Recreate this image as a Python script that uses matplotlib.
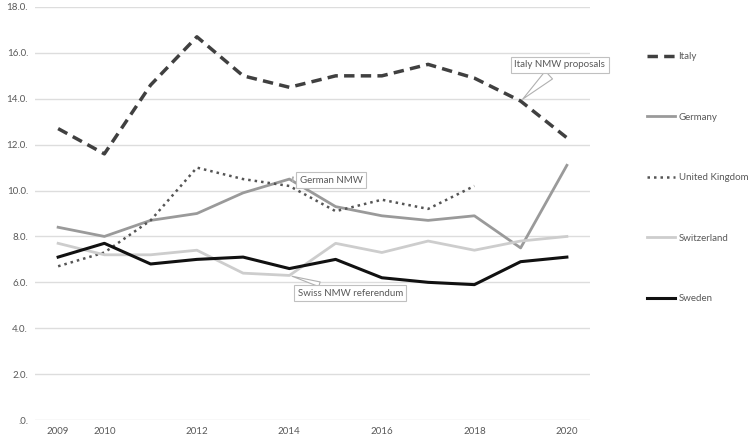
import matplotlib
matplotlib.use('Agg')
import matplotlib.pyplot as plt

plt.rcParams['font.family'] = ['Lato', 'DejaVu Sans']

years = [2009, 2010, 2011, 2012, 2013, 2014, 2015, 2016, 2017, 2018, 2019, 2020]
italy = [12.7, 11.6, 14.6, 16.7, 15.0, 14.5, 15.0, 15.0, 15.5, 14.9, 13.9, 12.3]
germany = [8.4, 8.0, 8.7, 9.0, 9.9, 10.5, 9.3, 8.9, 8.7, 8.9, 7.5, 11.1]
uk_years = [2009, 2010, 2011, 2012, 2013, 2014, 2015, 2016, 2017, 2018]
uk = [6.7, 7.3, 8.7, 11.0, 10.5, 10.2, 9.1, 9.6, 9.2, 10.2]
switzerland = [7.7, 7.2, 7.2, 7.4, 6.4, 6.3, 7.7, 7.3, 7.8, 7.4, 7.8, 8.0]
sweden = [7.1, 7.7, 6.8, 7.0, 7.1, 6.6, 7.0, 6.2, 6.0, 5.9, 6.9, 7.1]

xtick_years = [2009, 2010, 2012, 2014, 2016, 2018, 2020]
ytick_vals = [0, 2, 4, 6, 8, 10, 12, 14, 16, 18]
ytick_labels = ['.0.', '2.0.', '4.0.', '6.0.', '8.0.', '10.0.', '12.0.', '14.0.', '16.0.', '18.0.']

fig = plt.figure(figsize=(7.5, 4.43), dpi=100)
ax = fig.add_axes([35 / 750, 23 / 443, 555 / 750, 413 / 443])

ax.plot(years, italy, color='#404040', lw=2.5, dashes=(3, 1.8), label='Italy')
ax.plot(years, germany, color='#9a9a9a', lw=2.0, label='Germany')
ax.plot(uk_years, uk, color='#555555', lw=1.8, ls=(0, (1, 1.6)), label='United Kingdom')
ax.plot(years, switzerland, color='#cdcdcd', lw=2.0, label='Switzerland')
ax.plot(years, sweden, color='#111111', lw=2.2, label='Sweden')

ax.set_xlim(2008.5, 2020.5)
ax.set_ylim(0, 18)
ax.set_xticks(xtick_years)
ax.set_xticklabels([str(y) for y in xtick_years])
ax.set_yticks(ytick_vals)
ax.set_yticklabels(ytick_labels)
ax.grid(axis='y', color='#dddddd', lw=1)
ax.set_axisbelow(True)
for s in ax.spines.values():
    s.set_visible(False)
ax.tick_params(length=0, labelsize=7, colors='#595959', pad=5)

# callouts
box = dict(boxstyle='square,pad=0.35', fc='white', ec='#c0c0c0', lw=0.8)
arr = dict(arrowstyle='wedge,tail_width=0.5,shrink_factor=0.5', fc='white', ec='#b0b0b0', lw=0.8)
arr_it = dict(arrowstyle='wedge,tail_width=1.1,shrink_factor=0.5', fc='white', ec='#b0b0b0', lw=0.8)
ax.annotate('German NMW', xy=(2014, 10.5), xytext=(2014.9, 10.45),
            ha='center', va='center', fontsize=7, color='#595959', bbox=box,
            arrowprops=arr, annotation_clip=False)
ax.annotate('Italy NMW proposals', xy=(2019, 13.9), xytext=(2019.85, 15.48),
            ha='center', va='center', fontsize=7, color='#595959', bbox=box,
            arrowprops=arr_it, annotation_clip=False)
ax.annotate('Swiss NMW referendum', xy=(2014, 6.3), xytext=(2015.32, 5.52),
            ha='center', va='center', fontsize=7, color='#595959', bbox=box,
            arrowprops=arr, annotation_clip=False)

fig.legend(loc='upper left', bbox_to_anchor=(0.862, 0.882), frameon=False,
           fontsize=7, labelcolor='#595959', handlelength=2.9, handletextpad=0.4,
           labelspacing=5.3, borderpad=0, borderaxespad=0)

fig.savefig('out.png', dpi=100, facecolor='white')
